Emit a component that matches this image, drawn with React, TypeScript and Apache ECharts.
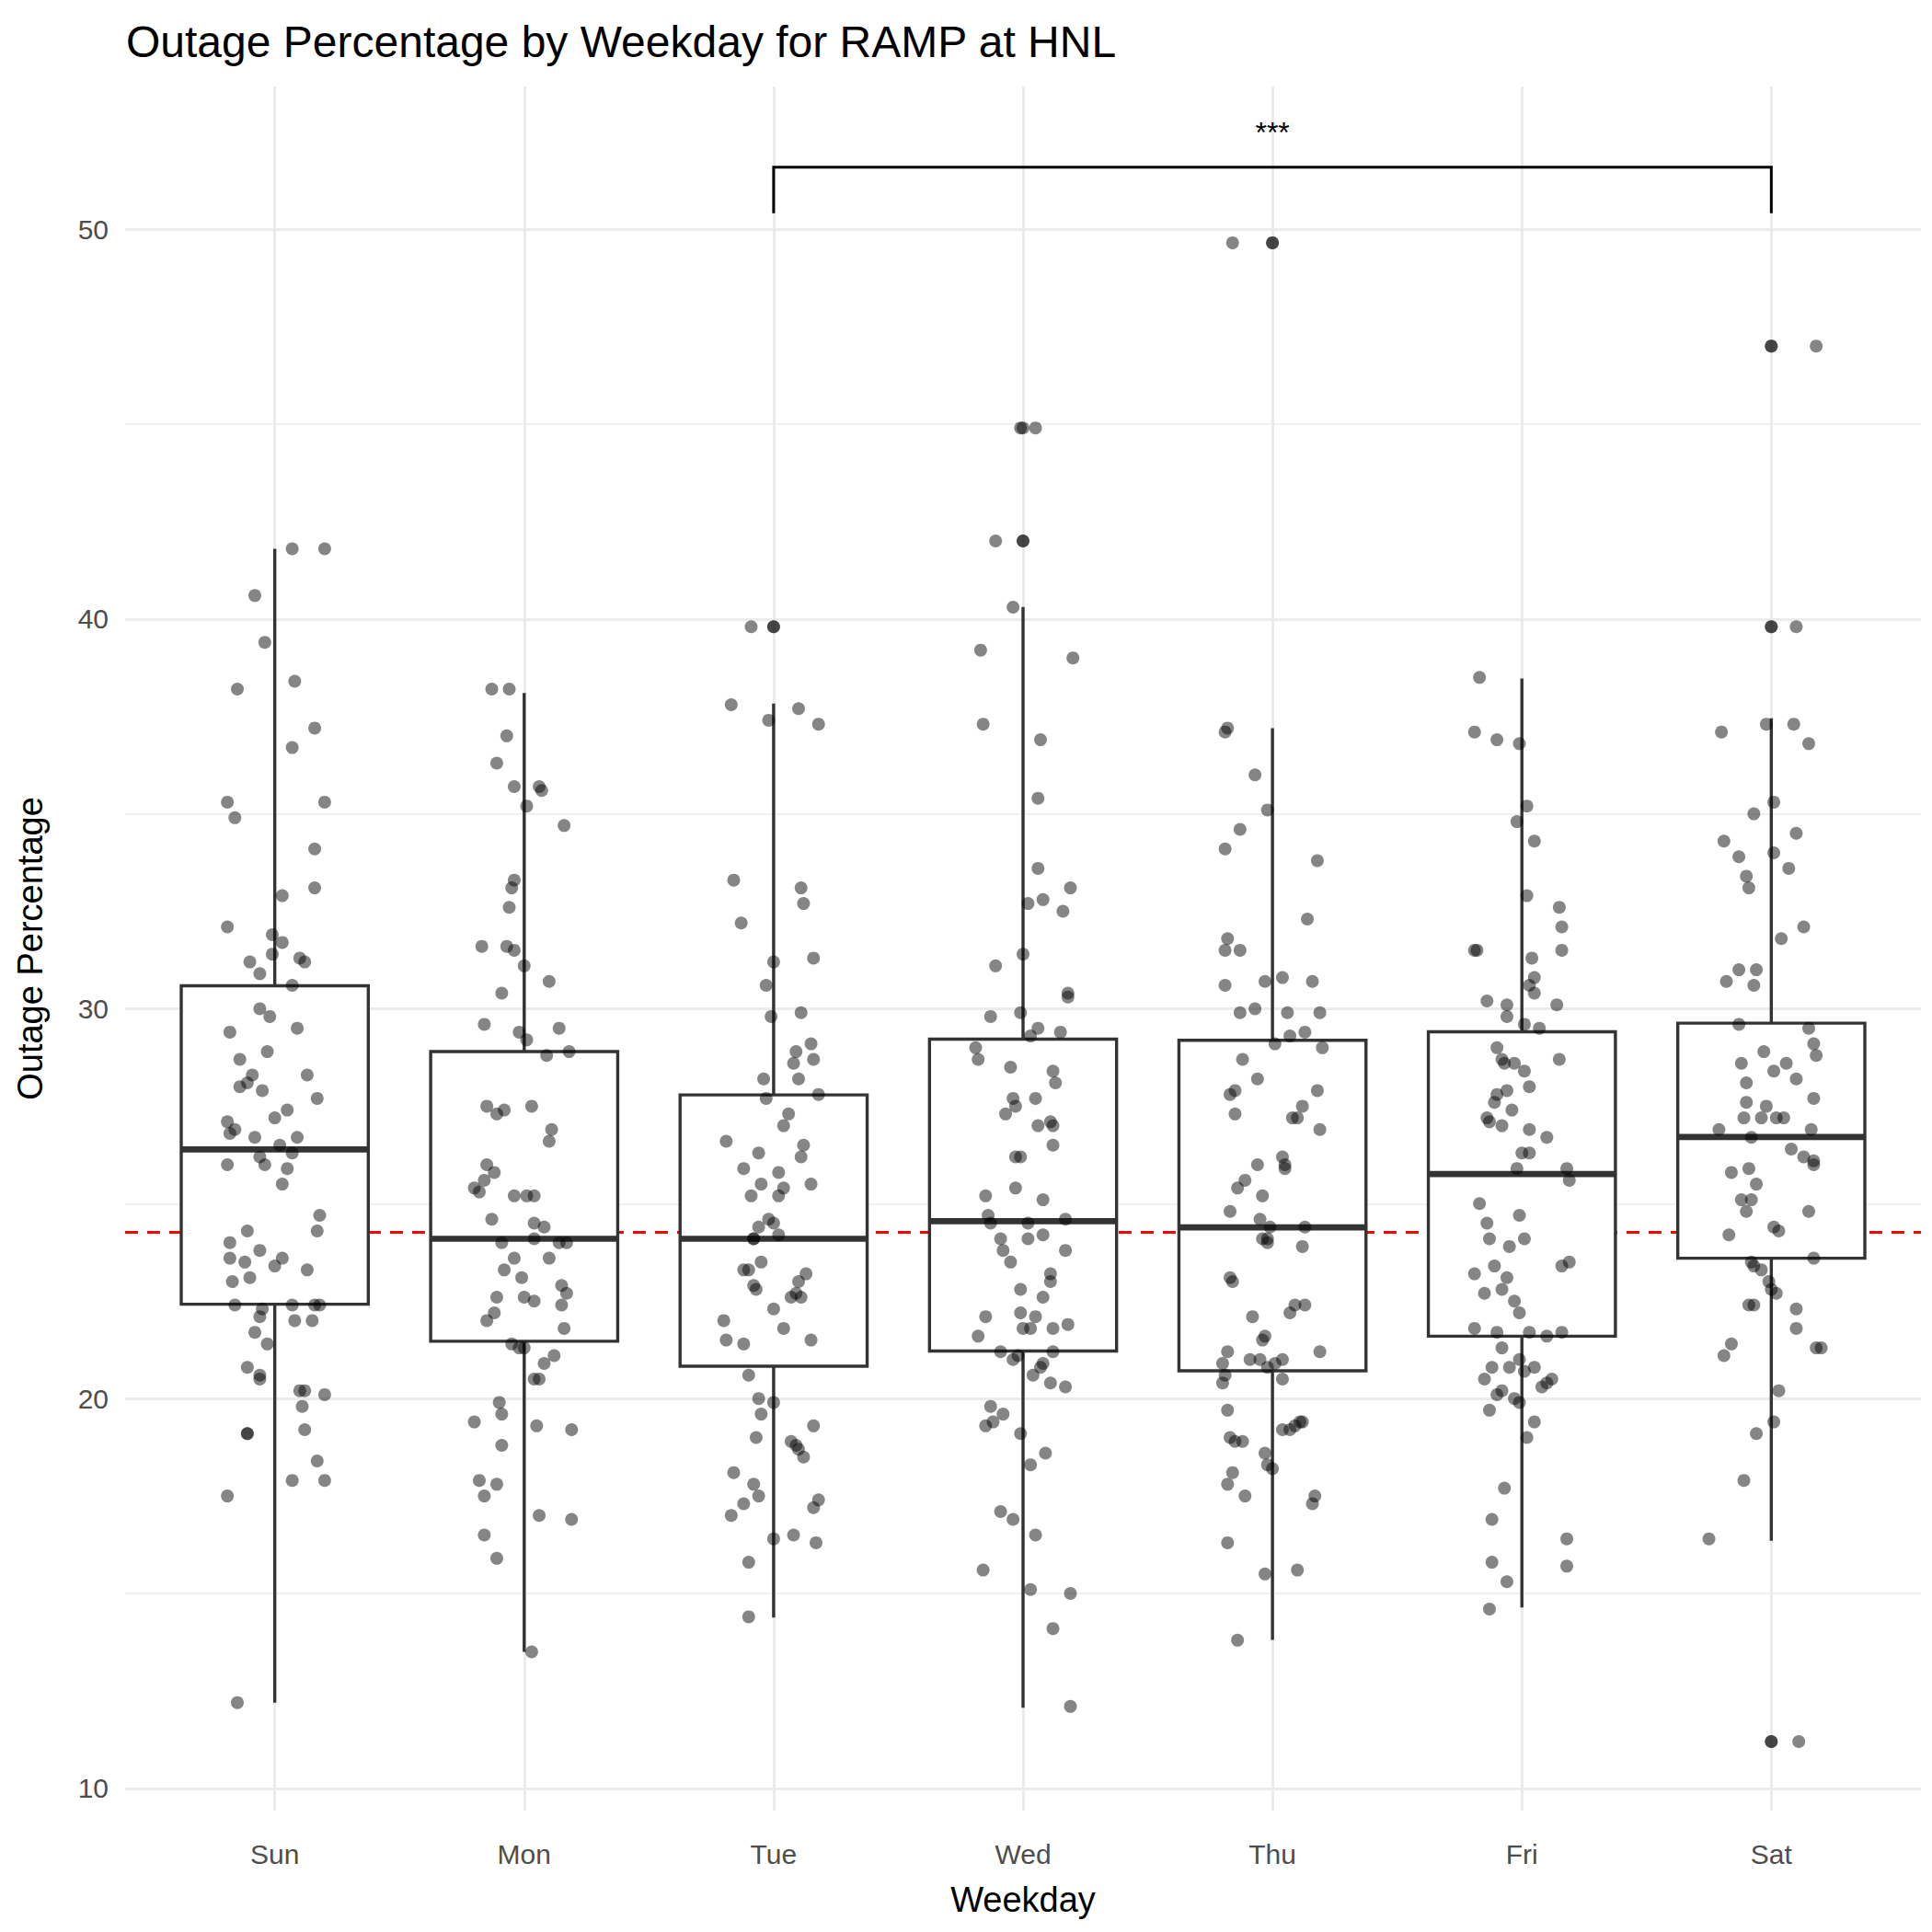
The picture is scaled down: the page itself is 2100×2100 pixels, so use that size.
import React, { useEffect, useRef } from "react";
import * as echarts from "echarts";

const days = ["Sun", "Mon", "Tue", "Wed", "Thu", "Fri", "Sat"];
const yTicks = [10, 20, 30, 40, 50];
const yMinor = [15, 25, 35, 45];
// [min, q1, median, q3, max]
const boxStats = [
  [12.2, 22.42, 26.39, 30.59, 41.8],
  [13.5, 21.47, 24.1, 28.9, 38.1],
  [14.38, 20.83, 24.1, 27.79, 37.83],
  [12.07, 21.22, 24.55, 29.22, 40.31],
  [13.81, 20.71, 24.39, 29.19, 37.2],
  [14.64, 21.6, 25.76, 29.41, 38.47],
  [16.35, 23.6, 26.71, 29.63, 37.45],
];
const overallMean = 24.27;
const outliers = [[], [], [39.8], [44.9, 42.0], [49.65], [], [47.0, 39.8, 11.2]];
// jittered points: [offset from category center, value]
const sunPts = [[0.2,41.8],[0.07,41.8],[-0.08,40.6],[-0.04,39.4],[0.08,38.4],[-0.15,38.2],[0.16,37.2],[0.07,36.7],[0.2,35.3],[-0.19,35.3],[-0.16,34.9],[0.16,34.1],[0.16,33.1],[0.03,32.9],[-0.19,32.1],[-0.01,31.9],[0.03,31.7],[-0.1,31.2],[0.1,31.3],[0.12,31.2],[-0.01,31.4],[-0.06,30.9],[0.07,30.6],[-0.06,30],[-0.02,29.8],[0.09,29.5],[-0.18,29.4],[-0.03,28.9],[-0.14,28.7],[0.13,28.3],[-0.09,28.3],[-0.11,28.1],[-0.05,27.9],[-0.14,28],[0.17,27.7],[0.05,27.4],[0,27.2],[-0.19,27.1],[-0.16,26.9],[-0.18,26.8],[-0.08,26.7],[0.09,26.7],[0.02,26.5],[0.07,26.3],[-0.06,26.2],[-0.19,26],[-0.04,26],[0.05,25.9],[0.03,25.5],[0.18,24.7],[0.17,24.3],[-0.11,24.3],[-0.18,24],[-0.06,23.8],[0.03,23.6],[-0.12,23.5],[-0.18,23.6],[0,23.4],[0.13,23.3],[-0.17,23],[-0.1,23.1],[-0.16,22.4],[0.16,22.4],[0.07,22.4],[0.18,22.4],[-0.05,22.3],[0.08,22],[0.15,22],[-0.06,22.1],[-0.08,21.7],[-0.03,21.4],[-0.11,20.8],[-0.06,20.6],[-0.06,20.5],[0.1,20.2],[0.12,20.2],[0.2,20.1],[0.11,19.8],[-0.11,19.1],[-0.11,19.1],[0.12,19.2],[0.17,18.4],[0.07,17.9],[0.2,17.9],[-0.19,17.5],[-0.15,12.2]];
const monPts = [[-0.13,38.2],[-0.06,38.2],[-0.11,36.3],[-0.07,37],[-0.04,35.7],[0.06,35.7],[0.07,35.6],[0.01,35.2],[0.16,34.7],[-0.04,33.3],[-0.05,33.1],[-0.06,32.6],[-0.17,31.6],[-0.07,31.6],[-0.04,31.5],[0,31.1],[0.1,30.7],[-0.09,30.4],[-0.16,29.6],[-0.02,29.4],[0.14,29.5],[0.01,29.2],[0.18,28.9],[0.09,28.8],[-0.15,27.5],[0.03,27.5],[-0.08,27.4],[-0.11,27.3],[0.11,26.9],[0.1,26.6],[-0.15,26],[-0.12,25.8],[-0.16,25.6],[-0.2,25.4],[-0.18,25.3],[0.01,25.2],[0.04,25.2],[-0.04,25.2],[-0.13,24.6],[0.08,24.4],[0.04,24.5],[0.04,24.1],[-0.09,24],[0.17,24],[-0.04,23.6],[0.1,23.6],[0.14,24],[-0.08,23.3],[-0.01,23.1],[0.15,22.9],[0,22.6],[0.17,22.7],[-0.11,22.6],[0.04,22.5],[0.15,22.4],[-0.12,22.2],[-0.15,22],[0.16,21.8],[-0.05,21.4],[0,21.3],[-0.02,21.3],[0.12,21.1],[0.08,20.9],[0.06,20.5],[0.04,20.5],[-0.1,19.9],[-0.09,19.6],[-0.2,19.4],[0.05,19.3],[0.19,19.2],[-0.09,18.8],[-0.18,17.9],[-0.11,17.8],[-0.16,17.5],[0.06,17],[0.19,16.9],[-0.16,16.5],[-0.11,15.9],[0.03,13.5]];
const tuePts = [[-0.09,39.8],[0,39.8],[-0.17,37.8],[0.1,37.7],[-0.02,37.4],[0.18,37.3],[-0.16,33.3],[0.11,33.1],[0.12,32.7],[-0.13,32.2],[0.16,31.3],[0,31.2],[-0.03,30.6],[0.11,29.9],[-0.01,29.8],[0.15,29.1],[0.09,28.9],[0.16,28.7],[0.08,28.6],[0.1,28.2],[-0.04,28.2],[-0.03,27.7],[0.18,27.8],[0.06,27.3],[0.04,27],[0.12,26.5],[-0.19,26.6],[-0.06,26.3],[0.11,26.2],[-0.12,25.9],[0.02,25.8],[0.15,25.5],[-0.05,25.5],[0.02,25.2],[0.04,25.4],[-0.09,25.2],[-0.02,24.6],[0,24.5],[-0.06,24.4],[-0.08,24.1],[-0.08,24.1],[0.02,24.2],[-0.1,23.3],[-0.05,23.5],[-0.12,23.3],[0.13,23.2],[0.1,23],[-0.07,22.8],[-0.08,22.9],[0.09,22.7],[0.11,22.6],[0.07,22.6],[0,22.3],[-0.2,22],[0.04,21.8],[-0.19,21.5],[0.15,21.5],[-0.12,21.4],[-0.1,20.6],[-0.06,20],[0,19.9],[-0.05,19.6],[0.16,19.3],[-0.07,19],[0.07,18.9],[0.09,18.8],[0.1,18.7],[0.12,18.5],[-0.16,18.1],[-0.08,17.8],[-0.06,17.5],[0.18,17.4],[-0.12,17.3],[0.16,17.2],[-0.17,17],[0.08,16.5],[0,16.4],[-0.1,15.8],[0.17,16.3],[-0.1,14.4]];
const wedPts = [[-0.01,44.9],[0.05,44.9],[-0.11,42],[0,42],[-0.04,40.3],[-0.17,39.2],[0.2,39],[-0.16,37.3],[0.07,36.9],[0.06,35.4],[0.06,33.6],[0.08,32.8],[0.02,32.7],[0.19,33.1],[0.16,32.5],[0,31.4],[-0.11,31.1],[0.18,30.4],[0.18,30.3],[-0.13,29.8],[-0.01,29.9],[0.15,29.4],[0.06,29.5],[0.03,29.3],[-0.19,29],[-0.18,28.7],[-0.05,28.5],[0.12,28.4],[0.13,28.1],[0.05,27.7],[-0.04,27.7],[-0.03,27.5],[-0.07,27.3],[0.11,27.1],[0.12,27],[0.06,27],[0.12,26.5],[-0.03,26.2],[-0.01,26.2],[-0.03,25.4],[0.08,25.1],[-0.15,25.2],[-0.14,24.7],[0.17,24.6],[-0.13,24.5],[0.02,24.5],[-0.09,24.1],[0.02,24.1],[0.08,24.2],[-0.08,23.8],[0.17,23.8],[-0.05,23.5],[0.11,23.2],[-0.01,22.8],[0.11,23],[0.08,22.6],[-0.15,22.1],[-0.01,22.2],[0.05,22.1],[0,21.8],[0.12,21.8],[0.03,21.8],[0.18,21.9],[-0.18,21.6],[-0.09,21.2],[0.12,21.2],[-0.02,21.1],[-0.04,21],[0.08,20.9],[0.07,20.8],[0.04,20.6],[0.17,20.3],[0.11,20.4],[-0.13,19.8],[-0.08,19.6],[-0.12,19.4],[-0.15,19.3],[-0.01,19.1],[0.09,18.6],[0.03,18.3],[-0.09,17.1],[-0.04,16.9],[0.05,16.5],[-0.16,15.6],[0.19,15],[0.03,15.1],[0.12,14.1],[0.19,12.1]];
const thuPts = [[-0.16,49.65],[0,49.65],[-0.18,37.2],[-0.19,37.1],[-0.07,36],[-0.02,35.1],[-0.13,34.6],[-0.19,34.1],[0.18,33.8],[0.14,32.3],[-0.18,31.8],[-0.19,31.5],[-0.13,31.5],[-0.03,30.7],[0.04,30.8],[0.16,30.7],[-0.19,30.6],[-0.07,30],[0.06,29.9],[0.19,29.9],[-0.13,29.9],[0.13,29.4],[0.07,29.3],[0.01,29.1],[0.2,29],[-0.12,28.7],[-0.06,28.2],[-0.15,27.9],[-0.17,27.8],[0.18,27.9],[0.12,27.5],[-0.15,27.3],[0.1,27.2],[0.08,27.2],[0.19,26.9],[0.04,26.2],[0.05,26],[-0.06,26],[0.05,25.9],[-0.11,25.6],[-0.14,25.4],[-0.04,25.2],[-0.17,24.8],[-0.05,24.6],[0.13,24.4],[-0.01,24.4],[-0.02,24.1],[-0.04,24.1],[-0.02,24],[0.12,23.9],[-0.17,23.1],[-0.16,23],[0.13,22.4],[0.09,22.4],[0.07,22.2],[-0.08,22.1],[-0.03,21.6],[-0.04,21.5],[0.19,21.2],[-0.18,21.2],[-0.09,21],[0.04,21],[-0.2,20.9],[-0.05,21],[-0.02,20.8],[0.01,20.9],[0.04,20.5],[-0.19,20.6],[-0.2,20.4],[-0.18,19.7],[0.12,19.4],[0.11,19.4],[0.09,19.3],[0.07,19.2],[0.04,19.2],[-0.17,19],[-0.15,18.9],[-0.12,18.9],[-0.03,18.6],[-0.02,18.3],[0,18.2],[-0.16,18.1],[0.17,17.5],[-0.18,17.8],[-0.11,17.5],[0.16,17.3],[-0.18,16.3],[0.1,15.6],[-0.03,15.5],[-0.14,13.8]];
const friPts = [[-0.17,38.5],[-0.19,37.1],[-0.1,36.9],[-0.01,36.8],[0.02,35.2],[-0.02,34.8],[0.05,34.3],[0.02,32.9],[0.15,32.6],[0.16,32.1],[0.16,31.5],[-0.18,31.5],[-0.19,31.5],[0.04,31.3],[0.05,30.8],[0.03,30.6],[0.05,30.4],[-0.14,30.2],[-0.06,30.1],[0.14,30.1],[-0.06,29.8],[0.01,29.6],[0.07,29.5],[-0.1,29],[-0.08,28.7],[0.15,28.7],[-0.07,28.6],[-0.03,28.6],[0.01,28.4],[0.03,28],[-0.06,27.9],[-0.1,27.8],[-0.11,27.6],[-0.04,27.4],[-0.14,27.2],[-0.08,27],[-0.13,27.1],[0.03,26.9],[0.1,26.7],[0,26.3],[0.03,26.3],[0.18,25.9],[-0.02,25.9],[0.19,25.6],[-0.17,25],[-0.01,24.7],[-0.14,24.5],[-0.13,24.1],[0.01,24.1],[-0.05,23.9],[0.19,23.5],[-0.19,23.2],[-0.11,23.4],[0.16,23.4],[-0.06,23.1],[-0.15,22.7],[-0.03,22.5],[-0.08,22.8],[-0.01,22.2],[-0.19,21.8],[-0.1,21.7],[0.03,21.7],[0.16,21.7],[0.1,21.6],[-0.08,21.3],[-0.01,21],[-0.12,20.8],[0.05,20.8],[-0.05,20.8],[0.01,20.7],[0.12,20.5],[0.1,20.4],[-0.15,20.5],[-0.1,20.1],[-0.01,19.9],[-0.03,20],[-0.08,20.2],[0.08,20.3],[-0.13,19.7],[0.05,19.4],[0.02,19],[-0.07,17.7],[0.18,16.4],[-0.12,16.9],[0.18,15.7],[-0.12,15.8],[-0.06,15.3],[-0.13,14.6]];
const satPts = [[0,47],[0.18,47],[0,39.8],[0.1,39.8],[-0.02,37.3],[0.09,37.3],[-0.2,37.1],[0.15,36.8],[0.01,35.3],[-0.07,35],[0.1,34.5],[-0.19,34.3],[0.01,34],[-0.1,33.4],[-0.09,33.1],[-0.13,33.9],[0.07,33.6],[0.13,32.1],[0.04,31.8],[-0.18,30.7],[-0.07,30.6],[-0.13,31],[-0.06,31],[-0.13,29.6],[0.15,29.5],[0.17,29.1],[0.18,28.8],[-0.03,28.9],[0.06,28.6],[-0.12,28.6],[0.01,28.4],[-0.1,28.1],[0.1,28.2],[-0.1,27.6],[0.17,27.7],[-0.02,27.5],[-0.11,27.2],[0.02,27.2],[-0.04,27.2],[0.05,27.2],[0.16,26.9],[-0.21,26.9],[-0.08,26.7],[0.08,26.4],[0.13,26.2],[0.17,26],[0.17,26.1],[-0.09,25.9],[-0.16,25.8],[-0.06,25.5],[-0.08,25.1],[-0.12,25.1],[0.15,24.8],[-0.1,24.8],[0.01,24.4],[-0.17,24.2],[0.03,24.3],[0.17,23.6],[-0.08,23.5],[-0.07,23.4],[-0.04,23.3],[-0.01,23],[0.02,22.7],[0,22.8],[-0.09,22.4],[-0.07,22.4],[0.1,22.3],[0.1,21.8],[0.18,21.3],[0.2,21.3],[-0.16,21.4],[-0.19,21.1],[0.03,20.2],[0.01,19.4],[-0.06,19.1],[-0.25,16.4],[-0.11,17.9],[0,11.2],[0.11,11.2]];
const allPts = [sunPts, monPts, tuePts, wedPts, thuPts, friPts, satPts];
const sigLabel = "***";
const sigPair = [3, 7];
const sigY = [50.41, 51.59];

export default function App() {
  const ref = useRef<HTMLDivElement>(null);
  useEffect(() => {
    document.body.style.margin = "0";
    const chart = echarts.init(ref.current!, null, { renderer: "svg" });
    const pts: number[][] = [];
    allPts.forEach((arr, i) => arr.forEach(([d, v]) => pts.push([i + 1 + d, v])));
    const outPts: number[][] = [];
    outliers.forEach((arr, i) => arr.forEach((v) => outPts.push([i + 1, v])));
    const boxData = boxStats.map((s, i) => [i + 1, ...s]);
    const font = "Liberation Sans, Arial, sans-serif";
    chart.setOption({
      animation: false,
      backgroundColor: "#fff",
      title: {
        text: "Outage Percentage by Weekday for RAMP at HNL",
        left: 132, top: 16,
        textStyle: { fontFamily: font, fontSize: 48, fontWeight: "normal", color: "#000" },
      },
      grid: { left: 136, right: 12, top: 94, bottom: 132 },
      xAxis: {
        type: "value", min: 0.4, max: 7.6,
        name: "Weekday", nameLocation: "middle", nameGap: 78,
        nameTextStyle: { fontFamily: font, fontSize: 38, color: "#000" },
        axisLine: { show: false }, axisTick: { show: false }, splitLine: { show: false },
        axisLabel: {
          customValues: [1, 2, 3, 4, 5, 6, 7],
          formatter: (v: number) => days[Math.round(v) - 1] ?? "",
          fontFamily: font, fontSize: 30, color: "#4d4d4d", margin: 32,
        },
      },
      yAxis: {
        type: "value", min: 9.43, max: 53.66,
        name: "Outage Percentage", nameLocation: "middle", nameGap: 84,
        nameTextStyle: { fontFamily: font, fontSize: 38, color: "#000" },
        axisLine: { show: false }, axisTick: { show: false }, splitLine: { show: false },
        axisLabel: {
          customValues: yTicks,
          fontFamily: font, fontSize: 30, color: "#4d4d4d", margin: 18,
        },
      },
      series: [
        {
          type: "scatter", data: [], z: 0, silent: true,
          markLine: {
            silent: true, symbol: "none", label: { show: false }, animation: false, z: 0,
            data: [
              ...yMinor.map((v) => ({ yAxis: v, lineStyle: { color: "#ebebeb", width: 1.5, type: "solid" } })),
              ...yTicks.map((v) => ({ yAxis: v, lineStyle: { color: "#ebebeb", width: 3, type: "solid" } })),
              ...days.map((_, i) => ({ xAxis: i + 1, lineStyle: { color: "#ebebeb", width: 3, type: "solid" } })),
            ],
          },
        },
        {
          type: "custom", z: 10, data: boxData,
          renderItem: (params: any, api: any) => {
            const x = api.value(0);
            const w = api.size([0.75, 0])[0];
            const [cx, yMin] = api.coord([x, api.value(1)]);
            const yQ1 = api.coord([x, api.value(2)])[1];
            const yMed = api.coord([x, api.value(3)])[1];
            const yQ3 = api.coord([x, api.value(4)])[1];
            const yMax = api.coord([x, api.value(5)])[1];
            return {
              type: "group",
              children: [
                { type: "rect", z2: 1, shape: { x: cx - 1.7, y: yMax, width: 3.4, height: yQ3 - yMax }, style: { fill: "#333333" } },
                { type: "rect", z2: 1, shape: { x: cx - 1.7, y: yQ1, width: 3.4, height: yMin - yQ1 }, style: { fill: "#333333" } },
                { type: "rect", z2: 2, shape: { x: cx - w / 2, y: yQ3, width: w, height: yQ1 - yQ3 }, style: { stroke: "#333333", lineWidth: 3.4, fill: "#ffffff" } },
                { type: "rect", z2: 3, shape: { x: cx - w / 2, y: yMed - 3.3, width: w, height: 6.6 }, style: { fill: "#333333" } },
              ],
            };
          },
        },
        {
          type: "scatter", z: 11, data: [], silent: true,
          markLine: {
            silent: true, symbol: "none", label: { show: false },
            data: [{ yAxis: overallMean, lineStyle: { color: "#ff0000", width: 3, type: [14, 10] } }],
          },
        },
        {
          type: "scatter", z: 12, data: pts, symbolSize: 14,
          itemStyle: { color: "rgba(0,0,0,0.6)" },
        },
        {
          type: "scatter", z: 12, data: outPts, symbolSize: 14,
          itemStyle: { color: "rgba(0,0,0,0.6)" },
        },
        {
          type: "custom", z: 13, data: [[sigPair[0], sigPair[1], sigY[0], sigY[1]]],
          renderItem: (params: any, api: any) => {
            const [x1, y0] = api.coord([api.value(0), api.value(2)]);
            const [x2, y1] = api.coord([api.value(1), api.value(3)]);
            const st = { stroke: "#000", lineWidth: 3, fill: null };
            return {
              type: "group",
              children: [
                { type: "polyline", shape: { points: [[x1, y0], [x1, y1], [x2, y1], [x2, y0]] }, style: st },
                { type: "text", x: (x1 + x2) / 2, y: y1 - 22, style: { text: sigLabel, fontFamily: font, fontSize: 32, fill: "#000", align: "center", verticalAlign: "bottom" } },
              ],
            };
          },
        },
      ],
    });
    return () => chart.dispose();
  }, []);
  return <div ref={ref} style={{ width: 2100, height: 2100 }} />;
}
